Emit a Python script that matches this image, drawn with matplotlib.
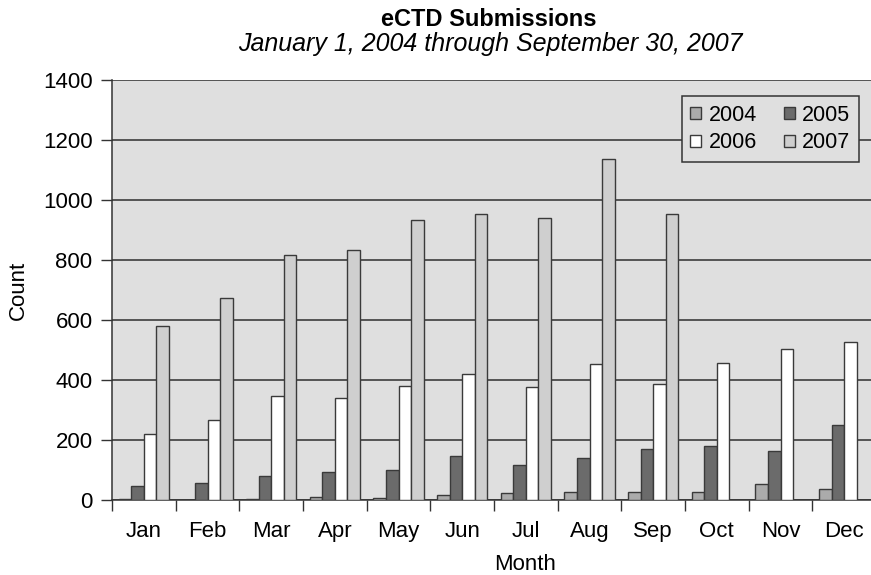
import matplotlib
matplotlib.use("Agg")
import matplotlib.pyplot as plt
from matplotlib.patches import Patch
import numpy as np

plt.rcParams['font.family'] = ['Liberation Sans', 'DejaVu Sans']

months = ["Jan", "Feb", "Mar", "Apr", "May", "Jun",
          "Jul", "Aug", "Sep", "Oct", "Nov", "Dec"]
years = ["2004", "2005", "2006", "2007"]

counts_2004 = [3, 0, 2, 9, 7, 18, 23, 28, 28, 28, 54, 36]
counts_2005 = [48, 58, 79, 92, 100, 148, 118, 140, 169, 180, 163, 250]
counts_2006 = [220, 268, 348, 340, 381, 420, 378, 452, 386, 456, 502, 528]
counts_2007 = [581, 673, 816, 835, 932, 955, 939, 1138, 952]  # through September

series = [counts_2004, counts_2005, counts_2006, counts_2007]
colors = ["#ababab", "#6b6b6b", "#ffffff", "#cfcfcf"]
edge = "#3a3a3a"

W, H = 871, 575
fig = plt.figure(figsize=(W / 100, H / 100), dpi=100)
ax = fig.add_axes([112 / W, 75 / H, 764 / W, 420 / H])
ax.set_facecolor("#dfdfdf")

bar_w = 0.197
offsets = (np.arange(4) - 1.5) * bar_w
for vals, col, off in zip(series, colors, offsets):
    x = np.arange(len(vals)) + 0.5 + off
    ax.bar(x, vals, width=bar_w, color=col, edgecolor=edge, linewidth=1.0, zorder=3)

ax.set_xlim(0, 12)
ax.set_ylim(0, 1400)
ax.set_yticks(np.arange(0, 1401, 200))
ax.yaxis.grid(True, color="#2e2e2e", linewidth=1.1, zorder=1)
ax.set_axisbelow(True)

ax.set_xticks(np.arange(12) + 0.5)
ax.set_xticklabels(months)
ax.set_xticks(np.arange(0, 13), minor=True)
ax.tick_params(axis="x", which="major", length=0, pad=15, labelsize=16)
ax.tick_params(axis="x", which="minor", length=8, width=1.0, color="#333333", direction="out")
ax.tick_params(axis="y", length=8, width=1.0, color="#333333", pad=6, labelsize=16)

for s in ["top", "right"]:
    ax.spines[s].set_visible(False)
for s in ["left", "bottom"]:
    ax.spines[s].set_color("#333333")
    ax.spines[s].set_linewidth(1.1)

fig.text(18 / W, 1 - 290 / H, "Count", rotation=90, ha="center", va="center", fontsize=16)
fig.text(525 / W, 1 - 564 / H, "Month", ha="center", va="center", fontsize=16)

# legend laid out row-wise: 2004 2005 / 2006 2007
handles = [Patch(facecolor=c, edgecolor=edge, linewidth=1.0, label=y)
           for c, y in zip(colors, years)]
order = [0, 2, 1, 3]
leg = ax.legend([handles[i] for i in order], [years[i] for i in order],
                ncol=2, loc="upper right", bbox_to_anchor=(859 / W, 1 - 96 / H),
                bbox_transform=fig.transFigure, fontsize=15.5, frameon=True,
                fancybox=False, edgecolor="#333333", facecolor="#dfdfdf",
                framealpha=1, handlelength=0.5, handleheight=0.5,
                handletextpad=0.35, columnspacing=1.25, borderpad=0.4,
                labelspacing=0.32, borderaxespad=0)
leg.get_frame().set_linewidth(1.1)
leg.set_zorder(5)

fig.text(489 / W, 1 - 20 / H, "eCTD Submissions", ha="center", va="center",
         fontsize=17, fontweight="bold")
fig.text(490 / W, 1 - 44 / H, "January 1, 2004 through September 30, 2007",
         ha="center", va="center", fontsize=18, fontstyle="italic")

fig.savefig("out.png", dpi=100)
